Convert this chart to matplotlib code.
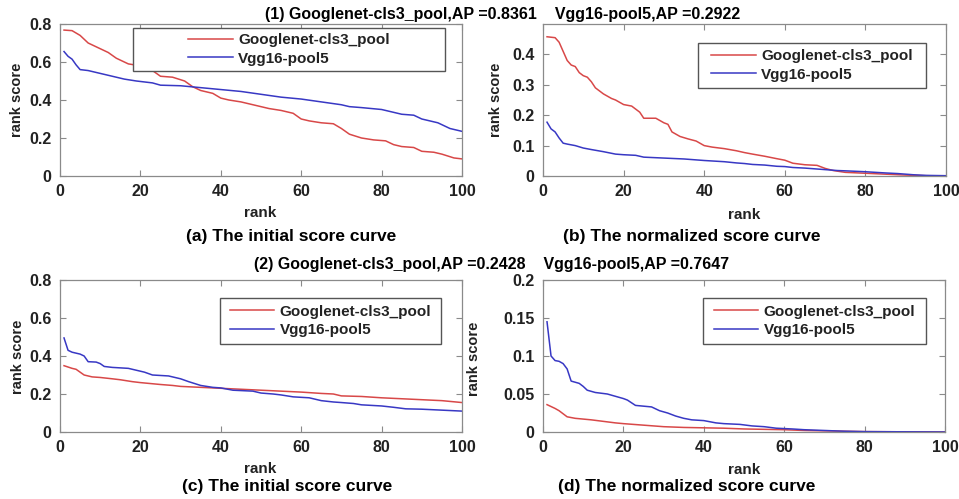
import matplotlib
matplotlib.use("Agg")
import matplotlib.pyplot as plt
from matplotlib.patches import Rectangle

plt.rcParams['font.family'] = ['Liberation Sans', 'DejaVu Sans']
plt.rcParams['font.weight'] = 'bold'

# --- data (rank -> score) ---
# (a) initial score curve, query 1
a_g_rank = [1, 3, 5, 7, 8, 10, 12, 14, 17, 20, 22, 25, 28, 31, 33, 35, 38, 40, 42, 45, 48, 50,
            52, 55, 58, 60, 62, 65, 68, 70, 72, 75, 78, 81, 83, 85, 88, 90, 93, 95, 98, 100]
a_g_score = [0.768, 0.765, 0.74, 0.70, 0.69, 0.67, 0.65, 0.62, 0.59, 0.58, 0.57, 0.525, 0.52, 0.50,
             0.47, 0.45, 0.435, 0.41, 0.40, 0.39, 0.375, 0.365, 0.355, 0.345, 0.33, 0.30, 0.29,
             0.28, 0.275, 0.25, 0.22, 0.20, 0.19, 0.185, 0.165, 0.155, 0.15, 0.13, 0.125, 0.115,
             0.095, 0.09]
a_v_rank = [1, 2, 3, 4, 5, 7, 10, 13, 16, 19, 23, 25, 30, 35, 40, 45, 50, 55, 60, 65, 70, 72,
            75, 80, 85, 88, 90, 94, 97, 100]
a_v_score = [0.655, 0.63, 0.615, 0.585, 0.56, 0.555, 0.54, 0.525, 0.51, 0.50, 0.49, 0.478, 0.475,
             0.465, 0.455, 0.445, 0.43, 0.415, 0.405, 0.39, 0.375, 0.365, 0.36, 0.35, 0.325, 0.32,
             0.30, 0.28, 0.25, 0.235]

# (b) normalized score curve, query 1
b_g_rank = [1, 3, 4, 5, 6, 7, 8, 9, 10, 11, 12, 13, 15, 17, 18, 20, 22, 24, 25, 28, 30, 31, 32,
            34, 36, 38, 40, 42, 45, 48, 50, 52, 55, 58, 60, 62, 65, 68, 70, 72, 75, 80, 85, 90,
            95, 100]
b_g_score = [0.458, 0.455, 0.44, 0.41, 0.38, 0.365, 0.36, 0.34, 0.33, 0.325, 0.31, 0.29, 0.27,
             0.255, 0.25, 0.235, 0.23, 0.21, 0.19, 0.19, 0.175, 0.17, 0.145, 0.13, 0.122, 0.115,
             0.10, 0.095, 0.09, 0.083, 0.077, 0.072, 0.065, 0.057, 0.052, 0.042, 0.037, 0.035,
             0.025, 0.018, 0.012, 0.009, 0.006, 0.003, 0.001, 0.0]
b_v_rank = [1, 2, 3, 4, 5, 6, 8, 10, 12, 15, 18, 20, 23, 25, 30, 35, 40, 45, 48, 50, 52, 55, 58,
            60, 62, 65, 70, 73, 75, 80, 85, 88, 92, 95, 100]
b_v_score = [0.177, 0.155, 0.145, 0.125, 0.108, 0.105, 0.10, 0.092, 0.087, 0.08, 0.072, 0.07,
             0.068, 0.062, 0.059, 0.056, 0.051, 0.047, 0.043, 0.041, 0.038, 0.036, 0.032, 0.031,
             0.028, 0.026, 0.021, 0.018, 0.017, 0.014, 0.01, 0.008, 0.004, 0.002, 0.001]

# (c) initial score curve, query 2
c_g_rank = [1, 3, 4, 5, 6, 8, 10, 13, 15, 18, 20, 25, 28, 30, 35, 40, 45, 50, 55, 60, 65, 68,
            70, 75, 80, 85, 90, 95, 100]
c_g_score = [0.349, 0.335, 0.33, 0.315, 0.30, 0.29, 0.287, 0.28, 0.275, 0.265, 0.26, 0.25, 0.245,
             0.24, 0.235, 0.23, 0.225, 0.22, 0.215, 0.21, 0.203, 0.20, 0.19, 0.187, 0.18, 0.175,
             0.17, 0.165, 0.155]
c_v_rank = [1, 2, 3, 5, 6, 7, 9, 10, 11, 13, 17, 19, 21, 23, 27, 30, 32, 35, 38, 40, 43, 48, 50,
            53, 55, 58, 62, 65, 68, 70, 73, 75, 80, 83, 86, 90, 95, 100]
c_v_score = [0.495, 0.43, 0.42, 0.41, 0.40, 0.37, 0.368, 0.36, 0.345, 0.34, 0.335, 0.325, 0.315,
             0.30, 0.295, 0.28, 0.265, 0.245, 0.235, 0.232, 0.22, 0.215, 0.205, 0.20, 0.195,
             0.185, 0.18, 0.165, 0.158, 0.155, 0.15, 0.143, 0.137, 0.13, 0.122, 0.12, 0.115, 0.11]

# (d) normalized score curve, query 2
d_g_rank = [1, 3, 4, 5, 6, 8, 10, 12, 15, 18, 20, 25, 30, 35, 40, 45, 50, 55, 60, 65, 70, 80, 100]
d_g_score = [0.036, 0.031, 0.028, 0.024, 0.02, 0.018, 0.017, 0.016, 0.014, 0.012, 0.011, 0.009,
             0.007, 0.006, 0.0055, 0.005, 0.004, 0.0035, 0.003, 0.002, 0.0015, 0.0005, 0.0]
d_v_rank = [1, 2, 3, 4, 5, 6, 7, 9, 10, 11, 13, 16, 18, 20, 21, 23, 25, 27, 29, 31, 33, 35, 37,
            40, 43, 45, 49, 52, 55, 58, 62, 65, 70, 75, 80, 100]
d_v_score = [0.145, 0.10, 0.094, 0.093, 0.09, 0.083, 0.067, 0.064, 0.06, 0.055, 0.052, 0.05,
             0.047, 0.044, 0.042, 0.035, 0.034, 0.033, 0.028, 0.025, 0.021, 0.018, 0.016, 0.015,
             0.012, 0.011, 0.010, 0.008, 0.007, 0.005, 0.004, 0.003, 0.002, 0.001, 0.0005, 0.0]

names = ['Googlenet-cls3_pool', 'Vgg16-pool5']
titles = ['(1) Googlenet-cls3_pool,AP =0.8361    Vgg16-pool5,AP =0.2922',
          '(2) Googlenet-cls3_pool,AP =0.2428    Vgg16-pool5,AP =0.7647']
captions = ['(a) The initial score curve', '(b) The normalized score curve',
            '(c) The initial score curve', '(d) The normalized score curve']

RED = '#d84848'
BLUE = '#3838c4'
TXT = '#222222'
EDGE = '#8a8a8a'

W, H = 959, 499
fig = plt.figure(figsize=(W / 100, H / 100), dpi=100)


def fx(px):
    return px / W


def fy(py):
    return 1 - py / H


def make_ax(l, t, r, b):
    return fig.add_axes([fx(l), fy(b), fx(r - l), (b - t) / H])


# pixel layout
panels = [
    dict(box=(60, 24, 462, 176), ylim=0.8, yt=[0, 0.2, 0.4, 0.6, 0.8],
         ytl=['0', '0.2', '0.4', '0.6', '0.8'], leg=(133, 28, 445, 71),
         data=(a_g_rank, a_g_score, a_v_rank, a_v_score),
         rank=(260, 213), cap=(291, 237), ylab=(17, 100)),
    dict(box=(543, 24, 946, 176), ylim=0.5, yt=[0, 0.1, 0.2, 0.3, 0.4],
         ytl=['0', '0.1', '0.2', '0.3', '0.4'], leg=(698, 43, 926, 88),
         data=(b_g_rank, b_g_score, b_v_rank, b_v_score),
         rank=(744, 215), cap=(692, 237), ylab=(496, 100)),
    dict(box=(60, 280, 462, 432), ylim=0.8, yt=[0, 0.2, 0.4, 0.6, 0.8],
         ytl=['0', '0.2', '0.4', '0.6', '0.8'], leg=(220, 298, 441, 344),
         data=(c_g_rank, c_g_score, c_v_rank, c_v_score),
         rank=(260, 469), cap=(287, 486), ylab=(18, 357)),
    dict(box=(543, 280, 945, 432), ylim=0.2, yt=[0, 0.05, 0.1, 0.15, 0.2],
         ytl=['0', '0.05', '0.1', '0.15', '0.2'], leg=(703, 298, 926, 344),
         data=(d_g_rank, d_g_score, d_v_rank, d_v_score),
         rank=(744, 470), cap=(687, 486), ylab=(474, 359)),
]

for p, cap in zip(panels, captions):
    ax = make_ax(*p['box'])
    gr, gs, vr, vs = p['data']
    lg, = ax.plot(gr, gs, color=RED, lw=1.1, zorder=2)
    lv, = ax.plot(vr, vs, color=BLUE, lw=1.1, zorder=2)
    ax.set_xlim(0, 100)
    ax.set_ylim(0, p['ylim'])
    ax.set_xticks([0, 20, 40, 60, 80, 100])
    ax.set_yticks(p['yt'])
    ax.set_yticklabels(p['ytl'])
    ax.tick_params(direction='in', top=True, right=True, length=4, width=0.8,
                   color=EDGE, labelcolor=TXT, labelsize=11.5, pad=6)
    for s in ax.spines.values():
        s.set_color(EDGE)
        s.set_linewidth(0.9)

    # legend frame drawn as a box, entries centred inside it (MATLAB look)
    l, t, r, b = p['box']
    ll, lt, lr, lb = p['leg']
    x0, x1 = (ll - l) / (r - l), (lr - l) / (r - l)
    y0, y1 = (b - lb) / (b - t), (b - lt) / (b - t)
    ax.add_patch(Rectangle((x0, y0), x1 - x0, y1 - y0, transform=ax.transAxes,
                           facecolor='white', edgecolor='#555555', lw=1.0, zorder=3))
    leg = ax.legend([lg, lv], names, loc='center',
                    bbox_to_anchor=((x0 + x1) / 2, (y0 + y1) / 2), frameon=False,
                    fontsize=11, handlelength=2.9, handletextpad=0.35, labelspacing=0.3,
                    borderpad=0.2)
    leg.set_zorder(4)
    for txt in leg.get_texts():
        txt.set_color(TXT)

    fig.text(fx(p['rank'][0]), fy(p['rank'][1]), 'rank', ha='center', va='center',
             fontsize=11, color=TXT)
    fig.text(fx(p['ylab'][0]), fy(p['ylab'][1]), 'rank score', ha='center', va='center',
             rotation=90, fontsize=10.5, color=TXT)
    fig.text(fx(p['cap'][0]), fy(p['cap'][1]), cap, ha='center', va='center',
             fontsize=12.5, color='black')

fig.text(fx(503), fy(14), titles[0], ha='center', va='center', fontsize=11.5, color='black')
fig.text(fx(492), fy(265), titles[1], ha='center', va='center', fontsize=11.5, color='black')

fig.savefig('out.png', dpi=100)
